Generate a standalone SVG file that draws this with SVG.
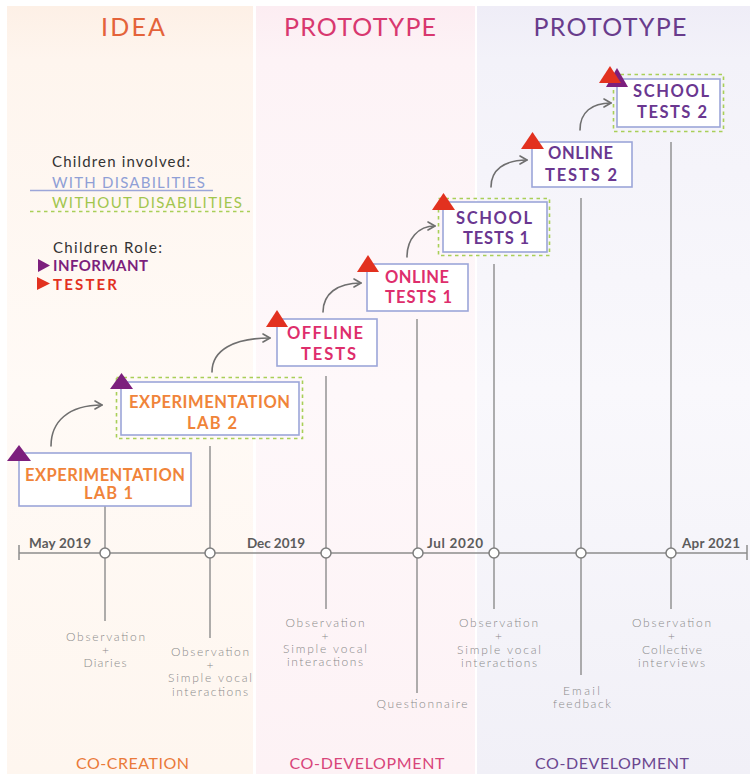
<svg xmlns="http://www.w3.org/2000/svg" width="750" height="774" viewBox="0 0 750 774">
<defs>
<linearGradient id="g1" x1="0" y1="0" x2="0" y2="1">
<stop offset="0" stop-color="#fdf0e6"/><stop offset="0.07" stop-color="#fef5ee"/><stop offset="0.5" stop-color="#fffaf6"/><stop offset="1" stop-color="#fef6ef"/>
</linearGradient>
<linearGradient id="g2" x1="0" y1="0" x2="0" y2="1">
<stop offset="0" stop-color="#fcedf2"/><stop offset="0.07" stop-color="#fdf3f6"/><stop offset="0.5" stop-color="#fef8fa"/><stop offset="1" stop-color="#fdf2f5"/>
</linearGradient>
<linearGradient id="g3" x1="0" y1="0" x2="0" y2="1">
<stop offset="0" stop-color="#efedf7"/><stop offset="0.07" stop-color="#f3f2f9"/><stop offset="0.5" stop-color="#f9f8fc"/><stop offset="1" stop-color="#f1f0f7"/>
</linearGradient>
<marker id="ah" viewBox="0 0 10 10" refX="8" refY="5" markerWidth="10" markerHeight="10" markerUnits="userSpaceOnUse" orient="auto">
<path d="M1,1 L8,5 L1,9" fill="none" stroke="#6f6f6f" stroke-width="1.6" stroke-linecap="round" stroke-linejoin="round"/>
</marker>
<style>
text{font-family:Lato,"Open Sans","Liberation Sans",sans-serif}
.title{font-size:25px;font-weight:400;text-anchor:middle}
.box{fill:#ffffff;stroke:#9ca6d9;stroke-width:1.6}
.dash{fill:none;stroke:#a9cf58;stroke-width:1.6;stroke-dasharray:3.5 3.5}
.nt{font-size:16.5px;font-weight:700;text-anchor:middle}
.or{fill:#f0843a}.pk{fill:#de2e6c}.pu{fill:#6a3790}
.vl{stroke:#8c8c8c;stroke-width:1.4;fill:none}
.dot{fill:#ffffff;stroke:#7e7e7e;stroke-width:1.5}
.date{font-size:13.5px;font-weight:700;fill:#5c5c5c}
.lab{font-size:12px;font-weight:300;fill:#8a8a8a;text-anchor:middle}
.conn{fill:none;stroke:#6f6f6f;stroke-width:1.6;stroke-linecap:round}
.bot{font-size:16px;font-weight:400;text-anchor:middle}
.leg{font-size:15px}
.tri-p{fill:#7c1f7d}.tri-r{fill:#e2311f}
</style>
</defs>
<rect width="750" height="774" fill="#ffffff"/>
<g id="panels">
<rect x="7" y="6" width="246" height="768" fill="url(#g1)"/>
<rect x="256" y="6" width="219" height="768" fill="url(#g2)"/>
<rect x="477" y="6" width="273" height="768" fill="url(#g3)"/>
</g>
<g id="titles">
<text class="title" x="133" y="36" fill="#e4633a" textLength="64" lengthAdjust="spacing">IDEA</text>
<text class="title" x="360" y="36" fill="#d8386f" textLength="152" lengthAdjust="spacing">PROTOTYPE</text>
<text class="title" x="610" y="36" fill="#693c8c" textLength="153" lengthAdjust="spacing">PROTOTYPE</text>
<text class="bot" x="132.5" y="769" fill="#ea7a3a" textLength="113" lengthAdjust="spacing">CO-CREATION</text>
<text class="bot" x="367" y="769" fill="#d8457a" textLength="155" lengthAdjust="spacing">CO-DEVELOPMENT</text>
<text class="bot" x="612" y="769" fill="#6b4790" textLength="154" lengthAdjust="spacing">CO-DEVELOPMENT</text>
</g>
<g id="legend">
<text class="leg" x="52" y="167" fill="#333333" textLength="138" lengthAdjust="spacing">Children involved:</text>
<text class="leg" x="52" y="188" fill="#8f9fd6" textLength="153" lengthAdjust="spacing">WITH DISABILITIES</text>
<line x1="30" y1="190.5" x2="213" y2="190.5" stroke="#9ca6d9" stroke-width="1.5"/>
<text class="leg" x="52" y="208" fill="#a2c64e" textLength="190" lengthAdjust="spacing">WITHOUT DISABILITIES</text>
<line x1="30" y1="211.5" x2="250" y2="211.5" stroke="#a9cf58" stroke-width="1.5" stroke-dasharray="3.5 3.5"/>
<text class="leg" x="53" y="253" fill="#333333" textLength="109" lengthAdjust="spacing">Children Role:</text>
<polygon class="tri-p" points="38,259 50,265.5 38,272"/>
<text x="53" y="271" font-size="15" font-weight="700" fill="#7c1f7d" textLength="95" lengthAdjust="spacing">INFORMANT</text>
<polygon class="tri-r" points="37,277 50,283.5 37,290"/>
<text x="53" y="290" font-size="15" font-weight="700" fill="#e2311f" textLength="64" lengthAdjust="spacing">TESTER</text>
</g>
<g id="timeline">
<line x1="19" y1="553" x2="747" y2="553" stroke="#8c8c8c" stroke-width="1.5"/>
<line x1="19" y1="545" x2="19" y2="560" stroke="#8c8c8c" stroke-width="1.5"/>
<line x1="747" y1="545" x2="747" y2="560" stroke="#8c8c8c" stroke-width="1.5"/>
<text class="date" x="29" y="548" textLength="62" lengthAdjust="spacing">May 2019</text>
<text class="date" x="247" y="548" textLength="58" lengthAdjust="spacing">Dec 2019</text>
<text class="date" x="427" y="548" textLength="56" lengthAdjust="spacing">Jul 2020</text>
<text class="date" x="682" y="548" textLength="58" lengthAdjust="spacing">Apr 2021</text>
</g>
<g id="stems">
<line class="vl" x1="105" y1="506" x2="105" y2="621"/>
<line class="vl" x1="210" y1="446" x2="210" y2="638"/>
<line class="vl" x1="326" y1="376" x2="326" y2="609"/>
<line class="vl" x1="417" y1="319" x2="417" y2="693"/>
<line class="vl" x1="494" y1="264" x2="494" y2="609"/>
<line class="vl" x1="581" y1="198" x2="581" y2="675"/>
<line class="vl" x1="671" y1="142" x2="671" y2="609"/>
<circle class="dot" cx="105" cy="553" r="5"/>
<circle class="dot" cx="210" cy="553" r="5"/>
<circle class="dot" cx="326" cy="553" r="5"/>
<circle class="dot" cx="418" cy="553" r="5"/>
<circle class="dot" cx="494" cy="553" r="5"/>
<circle class="dot" cx="581" cy="553" r="5"/>
<circle class="dot" cx="671" cy="553" r="5"/>
</g>
<g id="methods">
<text class="lab" x="105.5" y="641" textLength="79" lengthAdjust="spacing">Observation</text>
<text class="lab" x="105.5" y="654">+</text>
<text class="lab" x="105" y="667" textLength="43" lengthAdjust="spacing">Diaries</text>
<text class="lab" x="210" y="656" textLength="78" lengthAdjust="spacing">Observation</text>
<text class="lab" x="210" y="669">+</text>
<text class="lab" x="210" y="682" textLength="84" lengthAdjust="spacing">Simple vocal</text>
<text class="lab" x="210" y="696" textLength="76" lengthAdjust="spacing">interactions</text>
<text class="lab" x="325" y="627" textLength="79" lengthAdjust="spacing">Observation</text>
<text class="lab" x="325" y="640">+</text>
<text class="lab" x="325" y="653" textLength="84" lengthAdjust="spacing">Simple vocal</text>
<text class="lab" x="325" y="666" textLength="76" lengthAdjust="spacing">interactions</text>
<text class="lab" x="422" y="708" textLength="91" lengthAdjust="spacing">Questionnaire</text>
<text class="lab" x="498.5" y="627" textLength="79" lengthAdjust="spacing">Observation</text>
<text class="lab" x="498.5" y="640">+</text>
<text class="lab" x="499" y="654" textLength="84" lengthAdjust="spacing">Simple vocal</text>
<text class="lab" x="499" y="667" textLength="76" lengthAdjust="spacing">interactions</text>
<text class="lab" x="581.5" y="695" textLength="37" lengthAdjust="spacing">Email</text>
<text class="lab" x="582" y="708" textLength="58" lengthAdjust="spacing">feedback</text>
<text class="lab" x="671.5" y="627" textLength="79" lengthAdjust="spacing">Observation</text>
<text class="lab" x="671.5" y="640">+</text>
<text class="lab" x="672" y="654" textLength="60" lengthAdjust="spacing">Collective</text>
<text class="lab" x="671.5" y="667" textLength="67" lengthAdjust="spacing">interviews</text>
</g>
<g id="connectors">
<path class="conn" d="M51,446 C51,422 68,405 102,405" marker-end="url(#ah)"/>
<path class="conn" d="M212,372 C212,350 234,338 270,338" marker-end="url(#ah)"/>
<path class="conn" d="M323,312 C323,294 337,283 361,283" marker-end="url(#ah)"/>
<path class="conn" d="M407,257 C407,239 418,226 435,226" marker-end="url(#ah)"/>
<path class="conn" d="M491,187 C491,170 504,160 527,160" marker-end="url(#ah)"/>
<path class="conn" d="M580,130 C580,112 592,103 611,103" marker-end="url(#ah)"/>
</g>
<g id="node-lab1">
<rect class="box" x="19" y="453" width="172" height="53"/>
<polygon class="tri-p" points="7,461 19,445 31,461"/>
<text class="nt or" x="105" y="481" textLength="160" lengthAdjust="spacing">EXPERIMENTATION</text>
<text class="nt or" x="108.5" y="499" textLength="49" lengthAdjust="spacing">LAB 1</text>
</g>
<g id="node-lab2">
<rect class="dash" x="116.5" y="377.5" width="186" height="61"/>
<rect class="box" x="121" y="382" width="178" height="53"/>
<polygon class="tri-p" points="110,389 121.5,373 133,389"/>
<text class="nt or" x="209.5" y="408" textLength="161" lengthAdjust="spacing">EXPERIMENTATION</text>
<text class="nt or" x="212" y="429" textLength="50" lengthAdjust="spacing">LAB 2</text>
</g>
<g id="node-offline">
<rect class="box" x="277" y="319" width="100" height="47"/>
<polygon class="tri-r" points="266,327 277,310 288,327"/>
<text class="nt pk" x="325" y="339" textLength="76" lengthAdjust="spacing">OFFLINE</text>
<text class="nt pk" x="328.5" y="360" textLength="55" lengthAdjust="spacing">TESTS</text>
</g>
<g id="node-online1">
<rect class="box" x="367" y="264" width="101" height="47"/>
<polygon class="tri-r" points="357,272 368,255 379,272"/>
<text class="nt pk" x="417" y="283" textLength="64" lengthAdjust="spacing">ONLINE</text>
<text class="nt pk" x="418.5" y="303" textLength="67" lengthAdjust="spacing">TESTS 1</text>
</g>
<g id="node-school1">
<rect class="dash" x="438.5" y="198.5" width="111" height="57"/>
<rect class="box" x="443" y="202" width="104" height="50"/>
<polygon class="tri-r" points="432,210 443.5,193 455,210"/>
<text class="nt pu" x="494" y="224" textLength="76" lengthAdjust="spacing">SCHOOL</text>
<text class="nt pu" x="496" y="244" textLength="66" lengthAdjust="spacing">TESTS 1</text>
</g>
<g id="node-online2">
<rect class="box" x="532" y="142" width="100" height="45"/>
<polygon class="tri-r" points="521,149 532.5,132 544,149"/>
<text class="nt pu" x="580.5" y="159" textLength="65" lengthAdjust="spacing">ONLINE</text>
<text class="nt pu" x="581" y="181" textLength="72" lengthAdjust="spacing">TESTS 2</text>
</g>
<g id="node-school2">
<rect class="dash" x="613.5" y="74.5" width="110" height="57"/>
<rect class="box" x="617" y="79" width="103" height="48"/>
<polygon class="tri-p" points="606,87 617,68 628,87"/>
<polygon class="tri-r" points="599,83 610,66 621,83"/>
<text class="nt pu" x="671" y="97" textLength="76" lengthAdjust="spacing">SCHOOL</text>
<text class="nt pu" x="672" y="118" textLength="70" lengthAdjust="spacing">TESTS 2</text>
</g>
</svg>
